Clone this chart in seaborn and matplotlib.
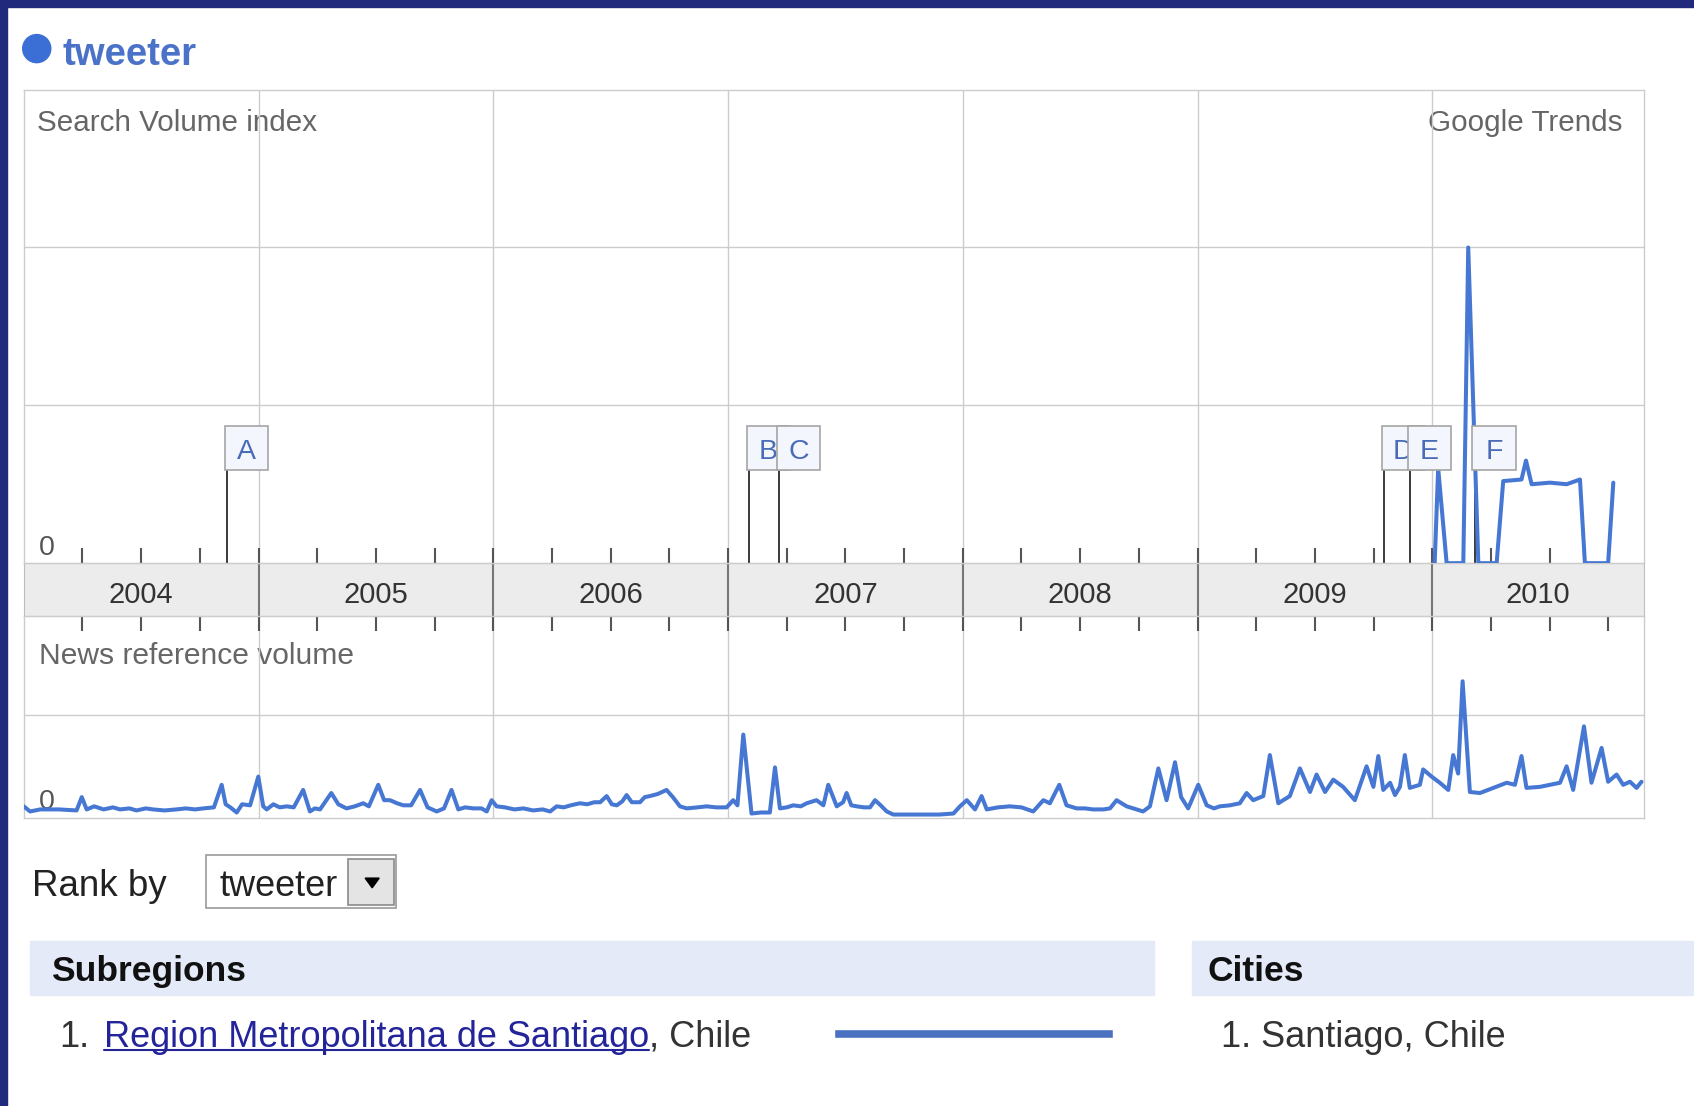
import numpy as np
import seaborn as sns
import matplotlib.pyplot as plt
from matplotlib.patches import Rectangle, FancyBboxPatch, Circle, Polygon

# values, x = decimal year
search_dates = [2010.010, 2010.025, 2010.061, 2010.132, 2010.153, 2010.196, 2010.274, 2010.302,
                2010.380, 2010.399, 2010.423, 2010.501, 2010.572, 2010.629, 2010.650, 2010.749, 2010.771]
search_vals = [0, 0.60, 0, 0, 2.0, 0, 0, 0.52, 0.53, 0.65, 0.50, 0.51, 0.50, 0.53, 0, 0, 0.51]

news_dates = [
    2004.000, 2004.027, 2004.070, 2004.150, 2004.225, 2004.247, 2004.268, 2004.300, 2004.340, 2004.380,
    2004.410, 2004.450, 2004.480, 2004.520, 2004.550, 2004.600, 2004.650, 2004.690, 2004.730, 2004.765,
    2004.810, 2004.843, 2004.860, 2004.880, 2004.907, 2004.930, 2004.964, 2004.999, 2005.020, 2005.035,
    2005.063, 2005.090, 2005.120, 2005.150, 2005.190, 2005.219, 2005.240, 2005.262, 2005.310, 2005.340,
    2005.375, 2005.410, 2005.446, 2005.470, 2005.510, 2005.535, 2005.560, 2005.590, 2005.617, 2005.650,
    2005.688, 2005.720, 2005.759, 2005.790, 2005.822, 2005.851, 2005.880, 2005.915, 2005.950, 2005.972,
    2005.993, 2006.014, 2006.050, 2006.090, 2006.128, 2006.170, 2006.210, 2006.242, 2006.270, 2006.300,
    2006.330, 2006.369, 2006.400, 2006.430, 2006.455, 2006.483, 2006.505, 2006.526, 2006.550, 2006.568,
    2006.590, 2006.625, 2006.645, 2006.667, 2006.700, 2006.738, 2006.765, 2006.795, 2006.824, 2006.870,
    2006.909, 2006.950, 2006.994, 2007.022, 2007.040, 2007.065, 2007.100, 2007.140, 2007.178, 2007.200,
    2007.221, 2007.250, 2007.278, 2007.310, 2007.335, 2007.377, 2007.406, 2007.427, 2007.463, 2007.490,
    2007.505, 2007.525, 2007.548, 2007.580, 2007.605, 2007.626, 2007.650, 2007.676, 2007.704, 2007.760,
    2007.830, 2007.900, 2007.960, 2007.988, 2008.017, 2008.052, 2008.080, 2008.102, 2008.150, 2008.200,
    2008.250, 2008.300, 2008.343, 2008.371, 2008.411, 2008.442, 2008.485, 2008.520, 2008.555, 2008.600,
    2008.627, 2008.655, 2008.698, 2008.740, 2008.768, 2008.797, 2008.833, 2008.868, 2008.904, 2008.930,
    2008.960, 2009.003, 2009.039, 2009.070, 2009.095, 2009.138, 2009.180, 2009.209, 2009.237, 2009.280,
    2009.308, 2009.344, 2009.393, 2009.436, 2009.479, 2009.507, 2009.543, 2009.578, 2009.620, 2009.670,
    2009.720, 2009.749, 2009.770, 2009.791, 2009.820, 2009.841, 2009.862, 2009.883, 2009.904, 2009.947,
    2009.961, 2009.997, 2010.032, 2010.068, 2010.089, 2010.110, 2010.129, 2010.160, 2010.203, 2010.260,
    2010.317, 2010.352, 2010.380, 2010.401, 2010.458, 2010.501, 2010.544, 2010.572, 2010.600, 2010.646,
    2010.678, 2010.721, 2010.749, 2010.785, 2010.813, 2010.842, 2010.870, 2010.891]
news_vals = [
    0.11, 0.06, 0.08, 0.08, 0.07, 0.20, 0.08, 0.11, 0.08, 0.10,
    0.08, 0.09, 0.07, 0.09, 0.08, 0.07, 0.08, 0.09, 0.08, 0.09,
    0.10, 0.32, 0.13, 0.10, 0.05, 0.13, 0.12, 0.40, 0.11, 0.08,
    0.13, 0.10, 0.11, 0.10, 0.27, 0.06, 0.09, 0.08, 0.24, 0.13,
    0.09, 0.11, 0.14, 0.11, 0.32, 0.17, 0.17, 0.14, 0.12, 0.12,
    0.27, 0.10, 0.06, 0.09, 0.27, 0.08, 0.10, 0.09, 0.09, 0.06,
    0.17, 0.11, 0.10, 0.08, 0.09, 0.07, 0.08, 0.06, 0.11, 0.10,
    0.12, 0.14, 0.13, 0.15, 0.15, 0.21, 0.13, 0.12, 0.16, 0.22,
    0.15, 0.15, 0.20, 0.21, 0.23, 0.27, 0.20, 0.11, 0.09, 0.10,
    0.11, 0.10, 0.10, 0.17, 0.12, 0.81, 0.04, 0.05, 0.05, 0.49,
    0.09, 0.10, 0.12, 0.11, 0.14, 0.17, 0.12, 0.32, 0.11, 0.15,
    0.24, 0.12, 0.11, 0.10, 0.10, 0.17, 0.12, 0.06, 0.03, 0.03,
    0.03, 0.03, 0.04, 0.11, 0.17, 0.08, 0.21, 0.08, 0.10, 0.11,
    0.10, 0.06, 0.17, 0.14, 0.32, 0.12, 0.09, 0.09, 0.08, 0.08,
    0.09, 0.17, 0.11, 0.08, 0.06, 0.11, 0.48, 0.17, 0.54, 0.20,
    0.09, 0.32, 0.12, 0.09, 0.11, 0.12, 0.14, 0.24, 0.17, 0.21,
    0.61, 0.14, 0.21, 0.48, 0.25, 0.42, 0.25, 0.37, 0.30, 0.17,
    0.50, 0.30, 0.60, 0.27, 0.34, 0.22, 0.30, 0.61, 0.29, 0.32,
    0.47, 0.40, 0.34, 0.27, 0.61, 0.43, 1.33, 0.25, 0.24, 0.29,
    0.34, 0.32, 0.60, 0.29, 0.30, 0.32, 0.34, 0.50, 0.27, 0.89,
    0.34, 0.68, 0.35, 0.42, 0.32, 0.35, 0.29, 0.35]

event_labels = ['A', 'B', 'C', 'D', 'E', 'F']
event_dates = [2004.865, 2007.088, 2007.217, 2009.794, 2009.905, 2010.18]
years = [2004, 2005, 2006, 2007, 2008, 2009, 2010]
subregions = ['Region Metropolitana de Santiago']
subregion_vals = [100]
cities = ['Santiago']

# layout grid (reference measured at 1568x1024)
W, H = 1568, 1024
X0, X1 = 2004.0, 2010.903
PX_YR = 217.3
BLUE = '#4677d3'
GRID = '#cccccc'
NAVY = '#20297b'

sns.set_style('white')
plt.rcParams['font.family'] = ['Liberation Sans', 'DejaVu Sans']

fig = plt.figure(figsize=(16.94, 11.06), dpi=100)


def rect(x0, y0, x1, y1):
    return [x0 / W, 1 - y1 / H, (x1 - x0) / W, (y1 - y0) / H]


page = fig.add_axes([0, 0, 1, 1], zorder=0)
page.set_xlim(0, W)
page.set_ylim(H, 0)
page.axis('off')

# navy frame
page.add_patch(Rectangle((0, 0), W, 6.5, color=NAVY))
page.add_patch(Rectangle((0, 0), 6.5, H, color=NAVY))

# legend
page.add_patch(Circle((34, 45), 13, color='#3b6fd6'))
page.text(58, 60, 'tweeter', weight='bold', size=27.6, color='#4a72c8', va='baseline')

quarters = np.arange(2004.25, 2010.9, 0.25)


def style_panel(ax, ymax, hlines):
    ax.set_facecolor('none')
    ax.set_xlim(X0, X1)
    ax.set_ylim(0, ymax)
    for h in hlines:
        ax.axhline(h, color=GRID, lw=1.0, zorder=0)
    for y in years[1:]:
        ax.axvline(y, color=GRID, lw=1.0, zorder=0)
    ax.set_xticks(quarters)
    ax.set_yticks([])
    ax.set_xlabel('')
    ax.set_ylabel('')
    for s in ax.spines.values():
        s.set_color(GRID)
        s.set_linewidth(1.0)


# search volume panel
ax_top = fig.add_axes(rect(22, 83, 1522, 521.4), zorder=2)
sns.lineplot(x=search_dates, y=search_vals, ax=ax_top, color=BLUE, linewidth=2.9, zorder=3)
style_panel(ax_top, 3, [1, 2])
ax_top.tick_params(axis='x', bottom=True, top=False, labelbottom=False, direction='in',
                   length=11, width=1.5, color='#555555')

box_lo, box_hi = 0.59, 0.866
for i, (lab, d) in enumerate(zip(event_labels, event_dates)):
    ax_top.vlines(d, 0, box_lo, color='#3a3a3a', lw=1.4, zorder=2)
    left = d - 2 / PX_YR
    ax_top.add_patch(FancyBboxPatch((left, box_lo), 40 / PX_YR, box_hi - box_lo,
                                    boxstyle='square,pad=0', facecolor='#f3f6fc',
                                    edgecolor='#a5a5a5', lw=1.2, zorder=5 + 2 * i))
    ax_top.text(left + 20 / PX_YR, box_lo + 0.068, lab, ha='center', va='baseline',
                size=20.5, color='#4a6cb8', zorder=6 + 2 * i)

# year band
ax_band = fig.add_axes(rect(22, 521.4, 1522, 570), zorder=1)
ax_band.set_facecolor('#ececec')
ax_band.set_xlim(X0, X1)
ax_band.set_ylim(0, 1)
ax_band.set_xticks([])
ax_band.set_yticks([])
for s in ax_band.spines.values():
    s.set_color('#bdbdbd')
for y in years[1:]:
    ax_band.axvline(y, color='#777777', lw=1.5)
for y in years:
    mid = (max(y, X0) + min(y + 1, X1)) / 2
    ax_band.text(mid, 0.245, str(y), ha='center', va='baseline', size=21, color='#333333')

# news reference panel
ax_news = fig.add_axes(rect(22, 570, 1522, 757), zorder=2)
sns.lineplot(x=news_dates, y=news_vals, ax=ax_news, color=BLUE, linewidth=2.9, zorder=3)
style_panel(ax_news, 1.97, [1.0])
ax_news.tick_params(axis='x', bottom=False, top=True, labelbottom=False, labeltop=False,
                    direction='in', length=11, width=1.5, color='#555555')

# panel texts
page.text(34, 121, 'Search Volume index', size=21.3, color='#666666', va='baseline')
page.text(1502, 121, 'Google Trends', size=21.3, color='#666666', va='baseline', ha='right')
page.text(36, 514, '0', size=20.5, color='#555555', va='baseline')
page.text(36, 615, 'News reference volume', size=21.6, color='#666666', va='baseline')
page.text(36, 749, '0', size=20.5, color='#555555', va='baseline')

# rank by dropdown
page.text(30, 830, 'Rank by', size=26.5, color='#222222', va='baseline')
page.add_patch(Rectangle((191, 792), 176, 49, facecolor='white', edgecolor='#999999', lw=1.2))
page.add_patch(Rectangle((322, 795), 43, 43, facecolor='#e4e4e4', edgecolor='#8a8a8a', lw=1.2))
page.add_patch(Polygon([(338, 813), (351, 813), (344.5, 822)], closed=True, color='black'))
page.text(203, 830, 'tweeter', size=26, color='#222222', va='baseline')

# subregions / cities tables
page.add_patch(Rectangle((28, 871), 1040, 50, color='#e4eaf8'))
page.add_patch(Rectangle((1103, 871), W - 1103, 50, color='#e4eaf8'))
page.text(47, 908, 'Subregions', size=25.5, weight='bold', color='#111111', va='baseline')
page.text(1118, 908, 'Cities', size=25.5, weight='bold', color='#111111', va='baseline')

LINK = '#23239a'
page.text(55, 969, '1.', size=26, color='#333333', va='baseline')
link = page.text(96, 969, subregions[0], size=26, color=LINK, va='baseline')
fig.canvas.draw()
bb = link.get_window_extent().transformed(page.transData.inverted())
page.plot([bb.x0, bb.x1], [972.5, 972.5], color=LINK, lw=1.5)
page.text(bb.x1, 969, ', Chile', size=26, color='#333333', va='baseline')

ax_bar = fig.add_axes(rect(772, 953, 1030, 961), zorder=2)
sns.barplot(x=subregion_vals, y=subregions, ax=ax_bar, color='#4a72c0', saturation=1,
            width=1.0, orient='h')
ax_bar.set_xlim(0, 100)
ax_bar.set_ylim(0.5, -0.5)
ax_bar.axis('off')

page.text(1130, 969, '1. ' + cities[0] + ', Chile', size=26, color='#333333', va='baseline')

fig.savefig('out.png', dpi=100)
